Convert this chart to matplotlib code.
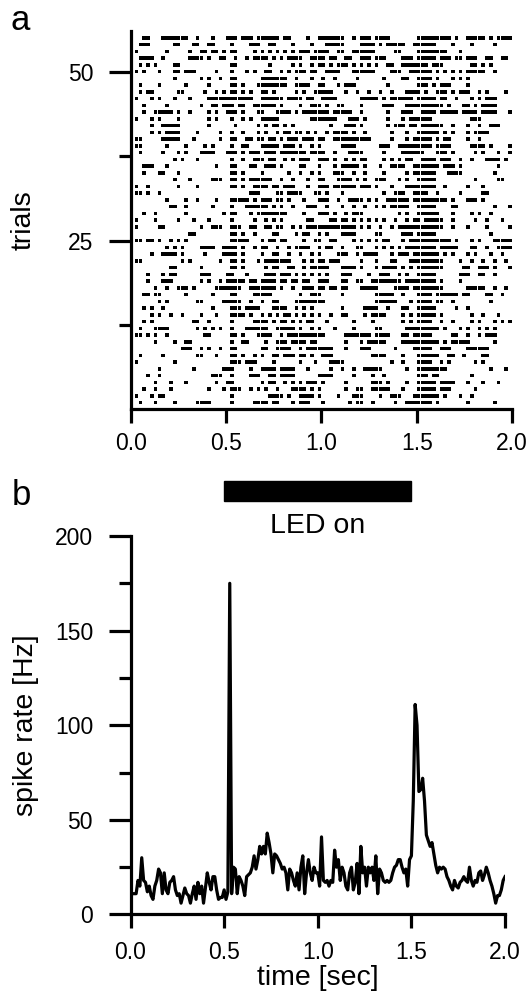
import numpy as np
import matplotlib.pyplot as plt
from matplotlib.patches import Rectangle
from matplotlib.ticker import FormatStrFormatter
from matplotlib.transforms import blended_transform_factory

plt.rcParams['font.family'] = ['Liberation Sans', 'DejaVu Sans']

# raster: spike bins of 20 ms for each trial, top trial first ("a-b" = run of bins)
bin_width = 0.02
raster_rows = [
    "3 4 8-13 14 17 21 25-27 29-30 31 33-38 40-41 46 49 50-55 58 60-62 64-67 75-79 80-83 85 88-92 94 96-99",
    "2-4 11-12 16-17 20-21 26 31-33 36-37 42 47 51-53 54-55 60-63 65 67-71 74-79 84 89 95",
    "1 9 15 18 19 21 22 24 26 27 32 34 36 38 40 42 44-46 48-51 54-55 58-63 69-70 75-82 86",
    "2-5 8 15-18 20 23 24 27 30 32-35 37 39 41-44 47-50 52-53 56-57 60-62 64-66 71-73 75-79 81-83 85-86 88-90 93-94 97-98",
    "2 4 6 11-12 26-27 36 42 44 47 49 50 52 54-56 58 60 62 64 67-68 71-77 79-81 89-90 92 94",
    "1 3 7 11-12 14-16 22 26 30 32 35-36 39 41 43-45 47-48 51-53 54 58-62 63 68-70 73-78 80 82 84 86 88-91 92 95",
    "11 18 20 23 26-27 34-39 40 43 47 50 53 59 66 71-72 75-78 80 84 86 88",
    "2 7 14 20 26-27 29 33-37 38-40 43 44-46 49-50 54 56 57-58 67 75-77 79 81-83 88",
    "2 4 5 12-13 19 22 24 26-27 29 31 34-35 37 43 45 48-49 50-52 56 59 62 65 68 72-75 77 80-82 84 86-88 91 93 98",
    "1 5 7 11 15 20-21 22-24 25-31 34-39 41-44 46-47 50-53 60-64 66 68-73 75-79 81-82 85 89 91 93-95",
    "3 9 18 21-22 24-26 28 29 32-37 39 44 47-48 49 51 54-55 60 66-68 72-81 83 87 88 90 92-95",
    "3 6-10 12 15 20 22 25-27 29 33-34 38-40 41 43 45-51 53-57 60 67 71-73 76-79 81-85 87-90 92-95 99",
    "1 5 7 12 20 22 26 29 31 34-38 47-53 57-59 61 67 71 73-78 89-91",
    "5 8-12 20 27 33 35 37 38 40 42 52 56-58 60 67 69-71 73 74 76-81 84 88 91 94-96",
    "5 7 9-12 17 23 26 29 33 35 38 40 41 43-44 46 48 51 53-56 58 61 68 72 75-79 80 82 84 88 90-93",
    "1-2 8-12 16 23 26-27 30-31 33-34 36-37 39 41-43 45-47 49-50 53-57 58-62 68 72 74-78 80 82-83 88 91",
    "1-2 9 14 19 21 26 29 30 34 35-38 40-42 44 47 49 55-58 65-67 70-78 80-83 89-92 94 99",
    "2 8 12 14 18-21 25-27 29 31-33 35-37 39-41 42-45 47-50 53 57-60 66 71-76 80-82 84 90 92 96 99",
    "11 13 17 26 29 32-34 36-37 40 42 44-46 49-51 53 56 58 60-61 66 68 70 72-73 76-79 81 82-83 86 89 93-96 98",
    "3-5 9 22 26-27 31-32 35-37 39 44-45 49 53 55-56 57-59 61 65 68-71 74-80 82-84 86 96",
    "3 7-8 12 26-27 29 34 41 44 47 49 53-55 58 61 66 72 74-79 83-86 95",
    "11 15 21-23 26-27 29 31-36 39 42 46 49 50 54-57 59 61 64-66 70 72 75-79 90 96-97",
    "1 4 12 17 26-27 29 32-35 37-38 40-42 46 49-51 53-57 58 60-62 64 68 72-76 77-79 82 88 92",
    "1-2 4 7 31-33 38-39 41-44 48-49 51 55 66 69-71 74-77 80 86 92-93",
    "9 14 17 22 26-27 28-30 32 34-36 38-39 41 45 49-51 54 57-60 62 64 67-72 74-79 80-82 84 88-90 92",
    "10-11 14 21 26 30-32 33-35 37 39 42 46-48 51 55 58 61 64 66 68-72 75-79 84 85 95 99",
    "3 6 14 24 26-27 31 33-40 45 49-51 53 56 58-60 70 72 75-80 84 89 91 94",
    "1 6 12 16 20 26 32 35 37 39 46-47 52-53 55-56 58 60 62 64 66 69 72 74-75 77-81 84 90 93 97",
    "1 7-8 18 21-23 26-28 31-32 35-36 38-39 42 44 46-50 51-53 54-58 60 62 65 68 70-73 74-81 84 88 93 99",
    "15-16 26-27 29 32 37-38 43 45-46 49 51 55-58 64-65 71-73 75-79 94",
    "1 2 4 5 7 10 12 14 26-30 34 36-37 39-40 45 48 49 52 53 58 60 62 64 66-67 71 73-80 81-82 83 85 89 91 95-99",
    "9 11 13 18-20 21 24-27 29 32 34-35 38 41 43-46 49 51 52 55 59-60 64 66 68 70 72-75 76-79 81-85 89-90 93 96-99",
    "5 8-11 13 19 24-27 29 34 37 38 41 44 47 49 54-56 59 61-63 64 68 70-72 74-79 80 82 84 88 90 94 97",
    "1-2 13 15 23 26-27 29 33 35-37 38-41 45 47 49 50 52-54 60 64 68-69 73-75 76-79 80 81 86 89 92 95 98",
    "10-11 18 26-27 29 35 37-38 41-42 45 47-48 49-51 55-58 60 64 66-69 71 73 75-80 81 87-88 91-93 95 99",
    "4 8 10-11 18-20 25-26 30 35-37 39-41 43 45 47 49 51 55-57 62 65-67 70 72 75-79 86-88 91-92 95",
    "4 8-10 18 20 23 25-29 31-32 34-37 39-40 42-43 45-46 49-51 55-56 59-60 63-70 72-79 81 86",
    "6 9 12-14 16 22-24 25-28 31 32-34 35-37 39 42 45-47 49-50 52-53 55-56 60-64 69-72 74-81 88-92 95 98",
    "3-4 6-7 14 21 26-27 32-36 44 47-49 55 64-68 71 75-78 80-85 87-88 93-94 97",
    "7 9 17-18 24-28 31 34 37-38 43-50 64-69 73 75-78 80-81 84 94",
    "3 5 8 21 26-28 30-33 37-39 40 43 45 47 55 61-64 67 71-72 75-79 85 88",
    "5 7 10 13 18 22 26-29 31 34 36 38 40-41 43 45 47 49 52 55-56 61 63-66 71 73 75-79 81 89 92 96",
    "3 5 16-17 20 26 32-35 37 39 40 42 44 46 47 51 58 63 71 73 75-78 81 84 89 91 95 97 99",
    "2 6-9 17 19 21 23 26 30-35 38-41 42 44 47 49 53 58 64-65 72-73 74-80 82 86 88 91 93 95",
    "1-2 4 6 9 19-20 26-27 29 33-36 39 41 42-49 50 56 57-62 64-67 71-72 74-78 84-85 88 91 93-95",
    "6 11 14-15 26 29-30 35 38-40 42-45 47-48 56 60 62-66 71-80 82 84-87 88 95",
    "13-15 18 20 23 26-27 34-35 38-40 41 44 46-52 56 60-62 69 74-78 81-83 88-92 93",
    "2 8 17-18 22 26-27 29 32 34 37-38 40-42 44-45 47 50 51-52 63-66 71 75-80 83-84 87 92-93",
    "1 11 26-28 30-32 37 44 48 52-55 68 71 75-78 81 83 90 92",
    "7 16 24-26 31 34 35-37 39-42 46 52 55 58 61-65 72 75-82 94 98",
    "4 7 21-23 26 31-33 36-37 39-42 49-52 58 63 66 75-77 79-80 89",
    "6 10 14 22 25-26 34 36-37 40 42 44 46-48 50 56 63-65 67 72 75-79 81-83 84 88 92 96",
    "3 6 10 20 24 26-28 31 33 35 38 42-45 47 49 56 59 60 63-67 71 75-79 81-83 90",
    "1 5 7-8 26 36-39 41 44-47 49 54 58-60 65 68-70 74-80 82 86 89",
    "2 6 11 17-20 26 32-35 37-38 42 44-46 50 57 59-60 63 69 72-78 80 88 95",
]

# spike rate in 10 ms steps from 0.0 to 2.0 s
psth_hz = [
    11, 11, 11, 11, 18, 15, 30, 18, 17, 12,
    15, 10, 8, 15, 18, 24, 22, 11, 22, 13,
    11, 17, 18, 20, 13, 10, 11, 6, 10, 14,
    11, 10, 6, 11, 15, 8, 17, 11, 15, 6,
    14, 22, 17, 13, 20, 20, 13, 8, 9, 9,
    13, 8, 12, 175, 11, 25, 24, 11, 20, 18,
    15, 10, 20, 21, 22, 25, 31, 24, 29, 36,
    32, 36, 32, 43, 38, 32, 22, 32, 31, 29,
    27, 24, 25, 22, 13, 24, 22, 18, 15, 22,
    13, 25, 31, 11, 22, 29, 22, 18, 25, 22,
    22, 15, 41, 18, 17, 18, 15, 18, 17, 34,
    25, 29, 18, 25, 22, 15, 13, 22, 25, 13,
    17, 27, 11, 36, 22, 25, 15, 25, 22, 25,
    18, 31, 11, 24, 22, 18, 17, 18, 17, 18,
    22, 25, 26, 29, 29, 25, 22, 24, 15, 29,
    31, 60, 111, 100, 65, 66, 72, 60, 42, 39,
    36, 38, 32, 26, 22, 25, 24, 25, 24, 20,
    18, 15, 13, 18, 15, 14, 17, 18, 20, 18,
    17, 25, 18, 15, 18, 17, 22, 23, 18, 21,
    25, 22, 18, 15, 11, 6, 10, 10, 13, 18,
    20,
]
psth_t = np.linspace(0, 2, len(psth_hz))

time_ticks = [0.0, 0.5, 1.0, 1.5, 2.0]
trial_ticks = [25, 50]
trial_minor = [12.5, 37.5]
rate_ticks = [0, 50, 100, 150, 200]
rate_minor = [25, 75, 125, 175]
led_on = (0.5, 1.5)


def parse_row(s):
    bins = []
    for tok in s.split():
        if '-' in tok:
            a, b = tok.split('-')
            bins.extend(range(int(a), int(b) + 1))
        else:
            bins.append(int(tok))
    return sorted(set(bins))


def style(ax):
    ax.spines[['top', 'right']].set_visible(False)
    for s in ('left', 'bottom'):
        ax.spines[s].set_linewidth(2.3)
    ax.tick_params(axis='y', which='major', length=16, width=2.3, pad=11, labelsize=16.5)
    ax.tick_params(axis='y', which='minor', length=9, width=2.3)
    ax.tick_params(axis='x', which='major', length=10, width=2.3, labelsize=16.5)


fig = plt.figure(figsize=(5.29, 9.91), dpi=100)
ax1 = fig.add_axes([0.2476, 0.5868, 0.7202, 0.3819])
ax2 = fig.add_axes([0.2467, 0.0772, 0.7080, 0.3819])

# a: raster
n_trials = len(raster_rows)
for i, row in enumerate(raster_rows):
    trial = n_trials - i
    spikes = [(b * bin_width, 0.019) for b in parse_row(row)]
    ax1.broken_barh(spikes, (trial - 0.26, 0.52), facecolors='black',
                    antialiased=False)
ax1.set_xlim(0, 2)
ax1.set_ylim(0, 56)
ax1.set_xticks(time_ticks)
ax1.xaxis.set_major_formatter(FormatStrFormatter('%.1f'))
ax1.set_yticks(trial_ticks)
ax1.set_yticks(trial_minor, minor=True)
style(ax1)
ax1.tick_params(axis='x', pad=6)
ax1.set_ylabel('trials', fontsize=20.5)
ax1.yaxis.set_label_coords(-0.247, 0.5)

# b: psth
ax2.plot(psth_t, psth_hz, color='black', lw=2.3)
ax2.set_xlim(0, 2)
ax2.set_ylim(0, 200)
ax2.set_xticks(time_ticks)
ax2.xaxis.set_major_formatter(FormatStrFormatter('%.1f'))
ax2.set_yticks(rate_ticks)
ax2.set_yticks(rate_minor, minor=True)
style(ax2)
ax2.tick_params(axis='x', pad=9)
ax2.set_ylabel('spike rate [Hz]', fontsize=20.5)
ax2.yaxis.set_label_coords(-0.245, 0.5)
ax2.set_xlabel('time [sec]', fontsize=20.5, labelpad=1)

trans = blended_transform_factory(ax2.transData, ax2.transAxes)
ax2.add_patch(Rectangle((led_on[0], 1.092), led_on[1] - led_on[0], 0.053,
                        transform=trans, color='black', clip_on=False))
ax2.text(np.mean(led_on), 1.027, 'LED on', transform=trans, ha='center', va='center',
         fontsize=20.5)

fig.text(0.019, 0.9697, 'a', fontsize=25, va='baseline')
fig.text(0.022, 0.4904, 'b', fontsize=25, va='baseline')

fig.savefig('out.png', dpi=100)
